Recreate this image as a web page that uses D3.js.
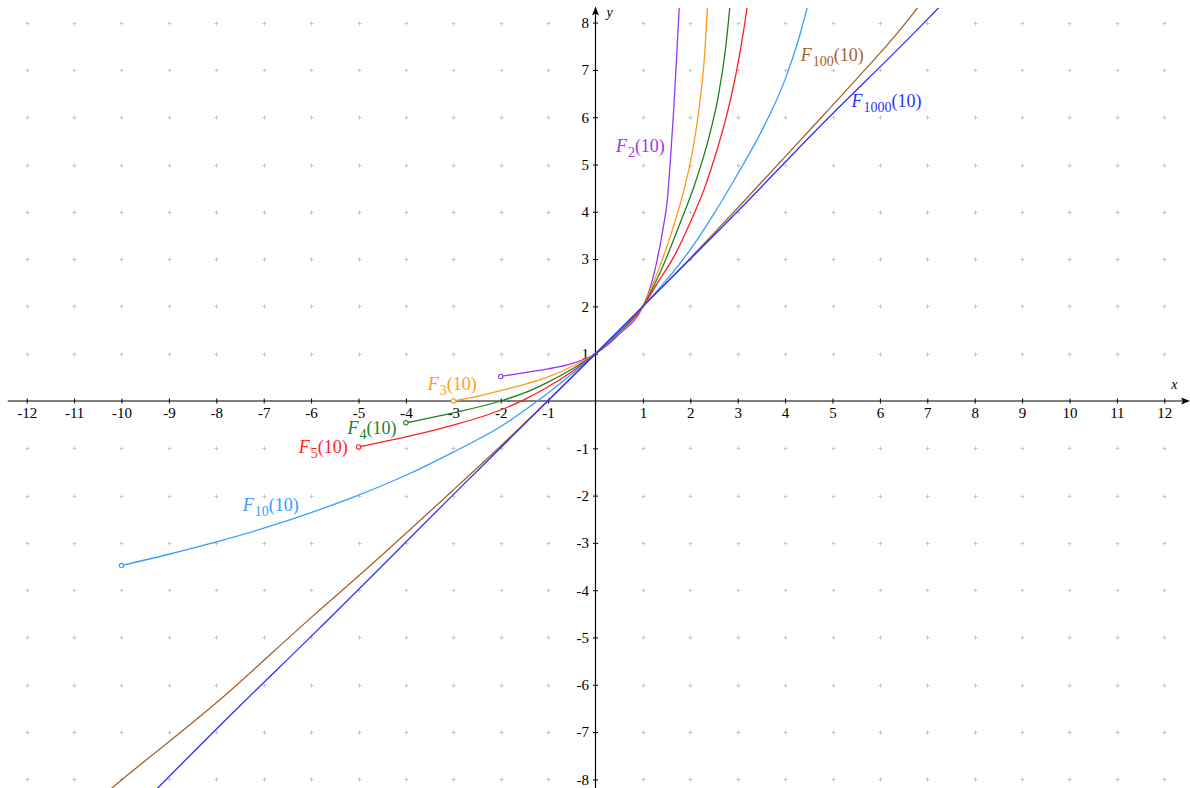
<!DOCTYPE html>
<html><head><meta charset="utf-8">
<script src="https://cdn.jsdelivr.net/npm/d3@7"></script>
<style>body{margin:0;background:#fff}svg{display:block}</style>
</head><body>
<svg id="chart" width="1190" height="788"></svg>
<script>
// ---- data ----
const xTickValues = [-12,-11,-10,-9,-8,-7,-6,-5,-4,-3,-2,-1,1,2,3,4,5,6,7,8,9,10,11,12];
const yTickValues = [-8,-7,-6,-5,-4,-3,-2,-1,1,2,3,4,5,6,7,8];
const gridX = [-12,-11,-10,-9,-8,-7,-6,-5,-4,-3,-2,-1,1,2,3,4,5,6,7,8,9,10,11,12];
const gridY = [-8,-7,-6,-5,-4,-3,-2,-1,1,2,3,4,5,6,7,8];

const seriesNames = ["2","3","4","5","10","100","1000"];

const f2X = [-2,-1.5,-1,-0.5,0,0.5,1,1.15,1.3,1.42,1.52,1.58,1.64,1.70,1.76,1.79];
const f2Y = [0.52,0.60,0.68,0.79,1,1.41,2,2.38,2.98,3.62,4.30,5.10,6.0,7.05,8.2,8.8];

const f3X = [-3,-2.5,-2,-1.5,-1,-0.5,0,0.5,1,1.3,1.6,1.85,2.05,2.2,2.3,2.37];
const f3Y = [0,0.10,0.22,0.35,0.51,0.73,1,1.44,2,2.7,3.55,4.4,5.3,6.3,7.3,8.5];

const f4X = [-4,-3,-2,-1.5,-1,-0.5,0,0.5,1,1.4,1.8,2.1,2.4,2.6,2.75,2.85];
const f4Y = [-0.46,-0.25,0.0,0.17,0.40,0.67,1,1.45,2,2.8,3.8,4.6,5.6,6.5,7.5,8.5];

const f5X = [-5,-4,-3,-2,-1.5,-1,-0.5,0,0.5,1,1.3,1.68,2.0,2.3,2.56,2.77,2.98,3.12,3.24];
const f5Y = [-0.97,-0.76,-0.51,-0.19,0.03,0.30,0.62,1,1.46,2,2.48,3.1,3.78,4.5,5.3,6.05,7.0,7.8,8.6];

const f10X = [-10,-9,-8,-7,-6,-5,-4,-3,-2,-1.5,-1,-0.5,0,0.5,1,1.5,2,2.5,3,3.5,4,4.3,4.5];
const f10Y = [-3.48,-3.24,-2.98,-2.69,-2.36,-1.99,-1.57,-1.08,-0.54,-0.2,0.17,0.57,1,1.47,2,2.56,3.2,3.96,4.8,5.7,6.8,7.7,8.45];

const f100X = [-10.4,-10.2,-8,-6,-4.62,-3,-2,-1,0,1,2,3,4.53,5.5,6.42,6.9];
const f100Y = [-8.35,-8.18,-6.38,-4.58,-3.36,-1.88,-0.95,0.01,1,2,3.02,4.08,5.74,6.8,7.84,8.45];

const f1000X = [-9.5,-7.64,-5.88,-3,0,1,3,4.67,6.78,7.4];
const f1000Y = [-8.45,-6.58,-4.86,-1.98,1,2,4.01,5.74,7.84,8.48];

const colors = ["#9a35f0","#ff9a1a","#1f7f1f","#ff1f1f","#3a9cff","#a3622f","#2f2fff"];
const hasStartMarker = [true,true,true,true,true,false,false];

// label anchors (data coordinates of the left end of the baseline)
const labelX = [0.43,-3.54,-5.23,-6.26,-7.44,4.33,5.4];
const labelY = [5.27,0.23,-0.70,-1.09,-2.32,7.19,6.21];

// ---- chart ----
const svg = d3.select("#chart");
const x = d3.scaleLinear().domain([-12,12]).range([26.7,1164.3]);
const y = d3.scaleLinear().domain([-8,8]).range([779.4,22.6]);

svg.append("rect").attr("width",1190).attr("height",788).attr("fill","#fff");

// grid crosses
const gridPts = [];
gridX.forEach(gx => gridY.forEach(gy => gridPts.push([gx,gy])));
const gg = svg.append("g").attr("stroke","#c6c6c6").attr("stroke-width",1);
gg.selectAll("path").data(gridPts).join("path")
  .attr("d", d => {
    const px = Math.round(x(d[0]))+0.5, py = Math.round(y(d[1]))+0.5;
    return `M${px-2},${py}H${px+2}M${px},${py-2}V${py+2}`;
  });

// axes
const x0 = y(0), y0 = x(0);
const xAxis = d3.axisBottom(x).tickValues(xTickValues).tickFormat(d => String(d))
  .tickSizeInner(2.5).tickSizeOuter(0).tickPadding(4);
const gx = svg.append("g").attr("transform",`translate(0,${x0})`).call(xAxis);
gx.select(".domain").remove();
gx.selectAll(".tick line").attr("y1",-2.5).attr("stroke","#000");
gx.selectAll(".tick text").attr("font-family","'Liberation Serif','Times New Roman',serif")
  .attr("font-size",15).attr("fill","#000");

const yAxis = d3.axisLeft(y).tickValues(yTickValues).tickFormat(d => String(d))
  .tickSizeInner(2.5).tickSizeOuter(0).tickPadding(4);
const gy = svg.append("g").attr("transform",`translate(${y0},0)`).call(yAxis);
gy.select(".domain").remove();
gy.selectAll(".tick line").attr("x1",2.5).attr("stroke","#000");
gy.selectAll(".tick text").attr("font-family","'Liberation Serif','Times New Roman',serif")
  .attr("font-size",15).attr("fill","#000");

// axis lines with arrows
svg.append("line").attr("x1",x(-12.4)).attr("x2",x(12.5)).attr("y1",x0).attr("y2",x0)
  .attr("stroke","#000").attr("stroke-width",1.2);
svg.append("line").attr("x1",y0).attr("x2",y0).attr("y1",y(8.3)).attr("y2",788)
  .attr("stroke","#000").attr("stroke-width",1.2);
const ax = x(12.5);
svg.append("path").attr("d",`M${ax+2},${x0}L${ax-7},${x0-3.5}L${ax-5},${x0}L${ax-7},${x0+3.5}Z`).attr("fill","#000");
const ay = y(8.3);
svg.append("path").attr("d",`M${y0},${ay-2}L${y0-3.5},${ay+7}L${y0},${ay+5}L${y0+3.5},${ay+7}Z`).attr("fill","#000");

svg.append("text").attr("x",x(12.4)-12).attr("y",x0-12).text("x")
  .attr("font-family","'Liberation Serif',serif").attr("font-style","italic").attr("font-size",14);
svg.append("text").attr("x",y0+11).attr("y",y(8.3)+9).text("y")
  .attr("font-family","'Liberation Serif',serif").attr("font-style","italic").attr("font-size",14);

// curves
const allX = [f2X,f3X,f4X,f5X,f10X,f100X,f1000X];
const allY = [f2Y,f3Y,f4Y,f5Y,f10Y,f100Y,f1000Y];
const series = seriesNames.map((n,i) => ({
  name:n, color:colors[i], marker:hasStartMarker[i],
  pts: allX[i].map((v,j) => [v, allY[i][j]]),
  lx: labelX[i], ly: labelY[i]
}));

svg.append("clipPath").attr("id","clip").append("rect")
  .attr("x",8).attr("y",8).attr("width",1174).attr("height",780);

const line = d3.line().x(d => x(d[0])).y(d => y(d[1])).curve(d3.curveMonotoneX);
const cg = svg.append("g").attr("clip-path","url(#clip)");
cg.selectAll("path").data(series).join("path")
  .attr("d", d => line(d.pts)).attr("fill","none")
  .attr("stroke", d => d.color).attr("stroke-width",1.3);

svg.selectAll("circle.start").data(series.filter(s => s.marker)).join("circle")
  .attr("class","start")
  .attr("cx", d => x(d.pts[0][0])).attr("cy", d => y(d.pts[0][1])).attr("r",2.2)
  .attr("fill","#fff").attr("stroke", d => d.color).attr("stroke-width",1.1);

// labels
const lab = svg.selectAll("text.lab").data(series).join("text").attr("class","lab")
  .attr("x", d => x(d.lx)).attr("y", d => y(d.ly))
  .attr("fill", d => d.color)
  .attr("font-family","'Liberation Serif','Times New Roman',serif").attr("font-size",18);
lab.append("tspan").attr("font-style","italic").text("F");
lab.append("tspan").attr("font-size",14).attr("dy",5).attr("dx",1).text(d => d.name);
lab.append("tspan").attr("dy",-5).text("(10)");
</script>
</body></html>
